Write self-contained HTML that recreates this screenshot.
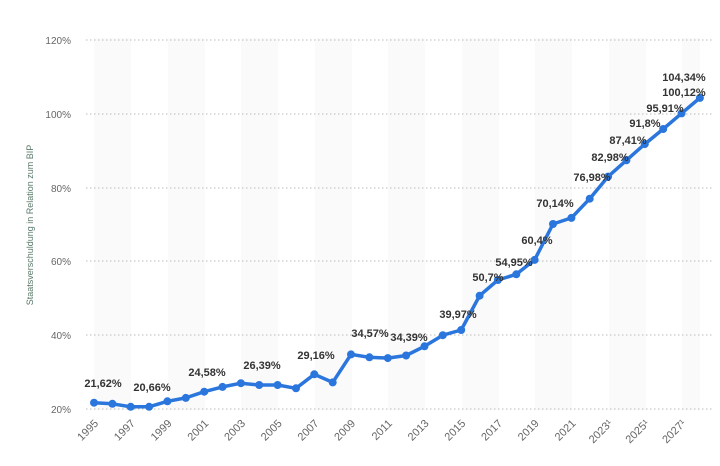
<!DOCTYPE html>
<html><head><meta charset="utf-8"><style>
body{margin:0;background:#fff;}
svg{display:block;font-family:"Liberation Sans",sans-serif;}
</style></head><body>
<svg width="720" height="466" viewBox="0 0 720 466">
<g fill="#fafafa">
<rect x="94" y="38" width="37" height="372"/><rect x="168" y="38" width="37" height="372"/><rect x="241" y="38" width="37" height="372"/><rect x="315" y="38" width="37" height="372"/><rect x="388" y="38" width="37" height="372"/><rect x="462" y="38" width="37" height="372"/><rect x="535" y="38" width="37" height="372"/><rect x="609" y="38" width="37" height="372"/><rect x="682" y="38" width="18" height="372"/>
</g>
<g stroke="#bbb" stroke-width="1" stroke-dasharray="1.5,2.5">
<line x1="86" x2="712" y1="40" y2="40"/><line x1="86" x2="712" y1="114" y2="114"/><line x1="86" x2="712" y1="188" y2="188"/><line x1="86" x2="712" y1="261" y2="261"/><line x1="86" x2="712" y1="335" y2="335"/><line x1="86" x2="712" y1="409" y2="409"/>
</g>
<g font-size="10" fill="#666" text-anchor="end">
<text x="71" y="44">120%</text><text x="71" y="118">100%</text><text x="71" y="192">80%</text><text x="71" y="265">60%</text><text x="71" y="339">40%</text><text x="71" y="413">20%</text>
</g>
<text transform="translate(33,225) rotate(-90)" font-size="9" fill="#5a7a6a" text-anchor="middle">Staatsverschuldung in Relation zum BIP</text>
<g font-size="11" fill="#666" text-anchor="end">
<text transform="translate(99,424) rotate(-45)">1995</text>
<text transform="translate(135.7,424) rotate(-45)">1997</text>
<text transform="translate(172.4,424) rotate(-45)">1999</text>
<text transform="translate(209.2,424) rotate(-45)">2001</text>
<text transform="translate(245.9,424) rotate(-45)">2003</text>
<text transform="translate(282.6,424) rotate(-45)">2005</text>
<text transform="translate(319.3,424) rotate(-45)">2007</text>
<text transform="translate(356,424) rotate(-45)">2009</text>
<text transform="translate(392.8,424) rotate(-45)">2011</text>
<text transform="translate(429.5,424) rotate(-45)">2013</text>
<text transform="translate(466.2,424) rotate(-45)">2015</text>
<text transform="translate(502.9,424) rotate(-45)">2017</text>
<text transform="translate(539.6,424) rotate(-45)">2019</text>
<text transform="translate(576.4,424) rotate(-45)">2021</text>
<text transform="translate(613.1,424) rotate(-45)">2023¹</text>
<text transform="translate(649.8,424) rotate(-45)">2025¹</text>
<text transform="translate(686.5,424) rotate(-45)">2027¹</text>
</g>
<polyline fill="none" stroke="#2a76dd" stroke-width="3.5" stroke-linejoin="round" points="94,402.7 112.4,403.8 130.7,406.8 149.1,406.8 167.4,401.3 185.8,397.9 204.2,391.7 222.5,386.9 240.9,383.2 259.2,385 277.6,385 296,388.3 314.3,374.3 332.7,382.4 351,354.4 369.4,357.3 387.8,358.1 406.1,355.5 424.5,346.3 442.8,335.2 461.2,330 479.6,295.7 497.9,280 516.3,274.3 534.6,259.9 553,224 571.4,217.9 589.7,198.7 608.1,176.6 626.4,160.3 644.8,144.1 663.2,129 681.5,113.4 699.9,97.9"/>
<g fill="#2a76dd">
<circle cx="94" cy="402.7" r="4"/><circle cx="112.4" cy="403.8" r="4"/><circle cx="130.7" cy="406.8" r="4"/><circle cx="149.1" cy="406.8" r="4"/><circle cx="167.4" cy="401.3" r="4"/><circle cx="185.8" cy="397.9" r="4"/><circle cx="204.2" cy="391.7" r="4"/><circle cx="222.5" cy="386.9" r="4"/><circle cx="240.9" cy="383.2" r="4"/><circle cx="259.2" cy="385" r="4"/><circle cx="277.6" cy="385" r="4"/><circle cx="296" cy="388.3" r="4"/><circle cx="314.3" cy="374.3" r="4"/><circle cx="332.7" cy="382.4" r="4"/><circle cx="351" cy="354.4" r="4"/><circle cx="369.4" cy="357.3" r="4"/><circle cx="387.8" cy="358.1" r="4"/><circle cx="406.1" cy="355.5" r="4"/><circle cx="424.5" cy="346.3" r="4"/><circle cx="442.8" cy="335.2" r="4"/><circle cx="461.2" cy="330" r="4"/><circle cx="479.6" cy="295.7" r="4"/><circle cx="497.9" cy="280" r="4"/><circle cx="516.3" cy="274.3" r="4"/><circle cx="534.6" cy="259.9" r="4"/><circle cx="553" cy="224" r="4"/><circle cx="571.4" cy="217.9" r="4"/><circle cx="589.7" cy="198.7" r="4"/><circle cx="608.1" cy="176.6" r="4"/><circle cx="626.4" cy="160.3" r="4"/><circle cx="644.8" cy="144.1" r="4"/><circle cx="663.2" cy="129" r="4"/><circle cx="681.5" cy="113.4" r="4"/><circle cx="699.9" cy="97.9" r="4"/>
</g>
<g font-size="11" fill="#333" text-anchor="middle" font-weight="bold">
<text x="103" y="387">21,62%</text><text x="152" y="391">20,66%</text><text x="207" y="376">24,58%</text><text x="262" y="369">26,39%</text><text x="316" y="359">29,16%</text><text x="370" y="337">34,57%</text><text x="409" y="341">34,39%</text><text x="458" y="318">39,97%</text><text x="488" y="281">50,7%</text><text x="514" y="266">54,95%</text><text x="537" y="244">60,4%</text><text x="555" y="207">70,14%</text><text x="592" y="181">76,98%</text><text x="610" y="161">82,98%</text><text x="628" y="144">87,41%</text><text x="645" y="127">91,8%</text><text x="665" y="112">95,91%</text><text x="684" y="96">100,12%</text><text x="684" y="81">104,34%</text>
</g>
</svg>
</body></html>
